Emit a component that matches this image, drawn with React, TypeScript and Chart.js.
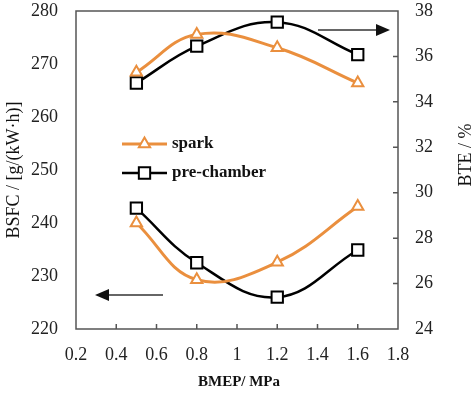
import React, { useEffect, useRef } from "react";
import { Chart, registerables } from "chart.js";

Chart.register(...registerables);

const bmep = [0.5, 0.8, 1.2, 1.6];
const sparkBSFC = [240.0, 229.3, 232.6, 243.1];
const preBSFC = [242.8, 232.5, 226.0, 234.9];
const sparkBTE = [35.3, 36.97, 36.38, 34.83];
const preBTE = [34.83, 36.45, 37.51, 36.08];

const xTicks = [0.2, 0.4, 0.6, 0.8, 1.0, 1.2, 1.4, 1.6, 1.8];
const xTickLabels = ["0.2", "0.4", "0.6", "0.8", "1", "1.2", "1.4", "1.6", "1.8"];
const leftTicks = [220, 230, 240, 250, 260, 270, 280];
const rightTicks = [24, 26, 28, 30, 32, 34, 36, 38];

const seriesNames = ["spark", "pre-chamber"];
const xTitle = "BMEP/ MPa";
const leftTitle = "BSFC / [g/(kW·h)]";
const rightTitle = "BTE / %";

const ORANGE = "#EA8F3E";
const BLACK = "#000000";
const AXIS = "#555555";
const FONT = "'Liberation Serif', 'Times New Roman', serif";

const pts = (ys: number[]) => bmep.map((x, i) => ({ x, y: ys[i] }));

function drawMarker(ctx: CanvasRenderingContext2D, style: string, x: number, y: number, r: number, color: string) {
  ctx.save();
  ctx.fillStyle = "#fff";
  ctx.strokeStyle = color;
  ctx.lineWidth = 2;
  ctx.beginPath();
  if (style === "triangle") {
    let rad = 0;
    ctx.moveTo(x + Math.sin(rad) * r, y - Math.cos(rad) * r);
    rad += (2 * Math.PI) / 3;
    ctx.lineTo(x + Math.sin(rad) * r, y - Math.cos(rad) * r);
    rad += (2 * Math.PI) / 3;
    ctx.lineTo(x + Math.sin(rad) * r, y - Math.cos(rad) * r);
    ctx.closePath();
  } else {
    const s = r * Math.SQRT1_2;
    ctx.rect(x - s, y - s, 2 * s, 2 * s);
  }
  ctx.fill();
  ctx.stroke();
  ctx.restore();
}

function arrow(ctx: CanvasRenderingContext2D, x1: number, x2: number, y: number) {
  const dir = x2 > x1 ? 1 : -1;
  ctx.save();
  ctx.strokeStyle = "#333";
  ctx.fillStyle = "#111";
  ctx.lineWidth = 1.3;
  ctx.beginPath();
  ctx.moveTo(x1, y);
  ctx.lineTo(x2 - dir * 10, y);
  ctx.stroke();
  ctx.beginPath();
  ctx.moveTo(x2, y);
  ctx.lineTo(x2 - dir * 14, y - 6);
  ctx.lineTo(x2 - dir * 14, y + 6);
  ctx.closePath();
  ctx.fill();
  ctx.restore();
}

const decor = {
  id: "decor",
  beforeDatasetsDraw(chart: any) {
    const { ctx, chartArea: a, scales } = chart;
    ctx.save();
    ctx.strokeStyle = AXIS;
    ctx.lineWidth = 1.5;
    ctx.strokeRect(a.left, a.top, a.right - a.left, a.bottom - a.top);
    ctx.beginPath();
    xTicks.slice(1, -1).forEach((v) => {
      const px = scales.x.getPixelForValue(v);
      ctx.moveTo(px, a.bottom);
      ctx.lineTo(px, a.bottom - 5);
    });
    rightTicks.slice(1, -1).forEach((v) => {
      const py = scales.y1.getPixelForValue(v);
      ctx.moveTo(a.right, py);
      ctx.lineTo(a.right - 5, py);
    });
    ctx.stroke();
    ctx.restore();
  },
  afterDraw(chart: any) {
    const { ctx } = chart;
    ctx.save();
    ctx.fillStyle = "#111";
    ctx.textAlign = "center";
    ctx.textBaseline = "middle";
    ctx.font = `18px ${FONT}`;
    ctx.save();
    ctx.translate(14, 170);
    ctx.rotate(-Math.PI / 2);
    ctx.fillText(leftTitle, 0, 0);
    ctx.restore();
    ctx.save();
    ctx.translate(466, 155);
    ctx.rotate(-Math.PI / 2);
    ctx.fillText(rightTitle, 0, 0);
    ctx.restore();
    ctx.font = `bold 15px ${FONT}`;
    ctx.fillText(xTitle, 239, 382);
    const rows = [
      { name: seriesNames[0], color: ORANGE, style: "triangle", y: 144, r: 6.5, w: 3 },
      { name: seriesNames[1], color: BLACK, style: "rect", y: 173, r: 8, w: 2.5 },
    ];
    rows.forEach((row) => {
      ctx.strokeStyle = row.color;
      ctx.lineWidth = row.w;
      ctx.beginPath();
      ctx.moveTo(122, row.y);
      ctx.lineTo(167, row.y);
      ctx.stroke();
      drawMarker(ctx, row.style, 144.5, row.y, row.r, row.color);
      ctx.fillStyle = "#111";
      ctx.textAlign = "left";
      ctx.font = `bold 17px ${FONT}`;
      ctx.fillText(row.name, 172, row.y);
    });
    arrow(ctx, 163, 95, 295);
    arrow(ctx, 318, 390, 30);
    ctx.restore();
  },
};

export default function App() {
  const ref = useRef<HTMLCanvasElement>(null);
  useEffect(() => {
    if (!ref.current) return;
    const mk = (label: string, data: number[], axis: string, color: string, style: string, r: number, w: number) => ({
      label,
      data: pts(data),
      yAxisID: axis,
      borderColor: color,
      backgroundColor: "#ffffff",
      borderWidth: w,
      pointStyle: style,
      pointRadius: r,
      pointBorderWidth: 2,
      pointBorderColor: color,
      pointBackgroundColor: "#ffffff",
      tension: 0.4,
      fill: false,
    });
    const noPad = (s: any) => {
      s.paddingTop = 0;
      s.paddingBottom = 0;
      s.paddingLeft = 0;
      s.paddingRight = 0;
    };
    const chart = new Chart(ref.current, {
      type: "line",
      data: {
        datasets: [
          mk(seriesNames[0], sparkBSFC, "y", ORANGE, "triangle", 6.5, 3),
          mk(seriesNames[1], preBSFC, "y", BLACK, "rect", 8, 2.5),
          mk(seriesNames[0], sparkBTE, "y1", ORANGE, "triangle", 6.5, 3),
          mk(seriesNames[1], preBTE, "y1", BLACK, "rect", 8, 2.5),
        ],
      },
      options: {
        animation: false,
        responsive: false,
        layout: { padding: { top: 11, left: 0, right: 0, bottom: 0 } },
        plugins: { legend: { display: false }, tooltip: { enabled: false } },
        scales: {
          x: {
            type: "linear",
            min: 0.2,
            max: 1.8,
            afterBuildTicks: (s: any) => {
              s.ticks = xTicks.map((v) => ({ value: v }));
            },
            afterFit: (s: any) => {
              s.height = 64;
              noPad(s);
            },
            grid: { display: false, drawTicks: false },
            border: { display: false },
            ticks: {
              padding: 15,
              color: "#222",
              font: { family: FONT, size: 18 },
              callback: (v: any) => {
                const i = xTicks.findIndex((t) => Math.abs(t - Number(v)) < 1e-6);
                return i >= 0 ? xTickLabels[i] : "";
              },
            },
          },
          y: {
            position: "left",
            min: 220,
            max: 280,
            afterBuildTicks: (s: any) => {
              s.ticks = leftTicks.map((v) => ({ value: v }));
            },
            afterFit: (s: any) => {
              s.width = 76;
              noPad(s);
            },
            grid: { display: false, drawTicks: false },
            border: { display: false },
            ticks: { padding: 18, color: "#222", font: { family: FONT, size: 18 } },
          },
          y1: {
            position: "right",
            min: 24,
            max: 38,
            afterBuildTicks: (s: any) => {
              s.ticks = rightTicks.map((v) => ({ value: v }));
            },
            afterFit: (s: any) => {
              s.width = 76;
              noPad(s);
            },
            grid: { display: false, drawTicks: false },
            border: { display: false },
            ticks: { padding: 17, color: "#222", font: { family: FONT, size: 18 } },
          },
        },
      },
      plugins: [decor],
    } as any);
    return () => chart.destroy();
  }, []);
  return (
    <div style={{ position: "fixed", left: 0, top: 0, width: 474, height: 393, background: "#fff" }}>
      <canvas ref={ref} width={474} height={393} style={{ width: 474, height: 393, display: "block" }} />
    </div>
  );
}
